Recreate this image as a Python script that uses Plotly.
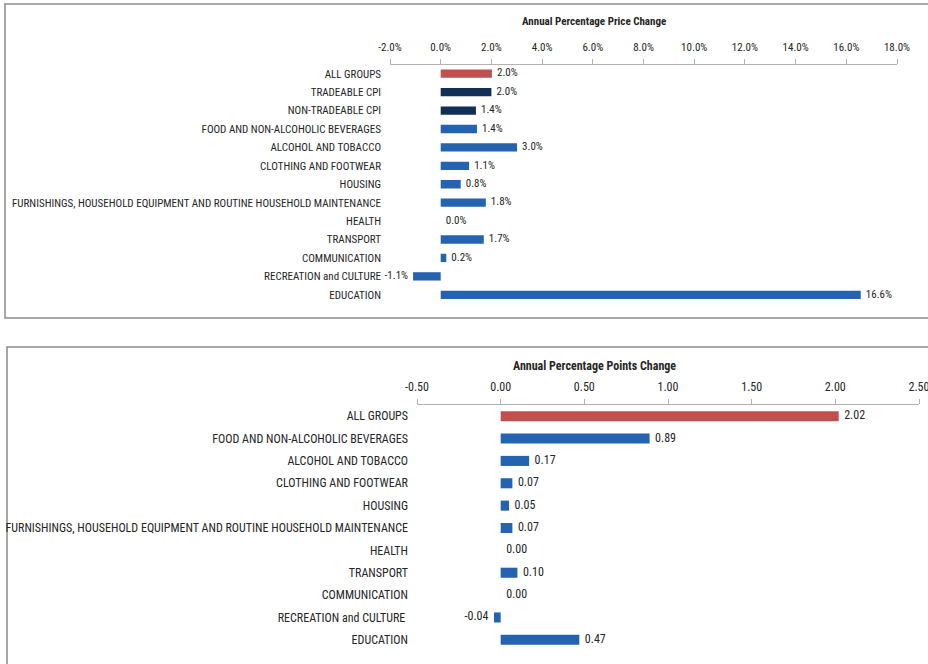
import plotly.graph_objects as go

W, H = 928, 664

cats_top = ["ALL GROUPS", "TRADEABLE CPI", "NON-TRADEABLE CPI", "FOOD AND NON-ALCOHOLIC BEVERAGES",
            "ALCOHOL AND TOBACCO", "CLOTHING AND FOOTWEAR", "HOUSING",
            "FURNISHINGS, HOUSEHOLD EQUIPMENT AND ROUTINE HOUSEHOLD MAINTENANCE",
            "HEALTH", "TRANSPORT", "COMMUNICATION", "RECREATION and CULTURE", "EDUCATION"]
vals_top = [2.02, 2.00, 1.39, 1.43, 3.01, 1.12, 0.79, 1.78, 0.00, 1.70, 0.22, -1.09, 16.57]
cols_top = ["red", "navy", "navy", "blue", "blue", "blue", "blue", "blue", "blue", "blue", "blue", "blue", "blue"]
ticks_top = [-2, 0, 2, 4, 6, 8, 10, 12, 14, 16, 18]

cats_bot = ["ALL GROUPS", "FOOD AND NON-ALCOHOLIC BEVERAGES", "ALCOHOL AND TOBACCO", "CLOTHING AND FOOTWEAR",
            "HOUSING", "FURNISHINGS, HOUSEHOLD EQUIPMENT AND ROUTINE HOUSEHOLD MAINTENANCE",
            "HEALTH", "TRANSPORT", "COMMUNICATION", "RECREATION and CULTURE\u00a0", "EDUCATION"]
vals_bot = [2.02, 0.89, 0.17, 0.07, 0.05, 0.07, 0.00, 0.10, 0.00, -0.04, 0.47]
cols_bot = ["red", "blue", "blue", "blue", "blue", "blue", "blue", "blue", "blue", "blue", "blue"]
ticks_bot = [-0.5, 0, 0.5, 1.0, 1.5, 2.0, 2.5]

PALETTE = {"red": "#C0504D", "navy": "#122F55", "blue": "#2463B0"}
FONT = "Liberation Sans Narrow, Arial Narrow, Roboto Condensed, Liberation Sans, sans-serif"
TXT = "#262626"
AXC = "#B3B3B3"
NB = "\u00a0"

def px_x(p):
    return p / W

def px_y(p):
    return 1 - p / H

top_area = dict(x0=390, x1=897, y0=64.5, y1=304)
bot_area = dict(x0=417, x1=919, y0=405, y1=651)

fig = go.Figure()

def add_panel(cats, vals, cols, xa, ya, fmt, suffix, fsize):
    fig.add_trace(go.Bar(
        x=vals, y=cats, orientation="h",
        marker=dict(color=[PALETTE[c] for c in cols], line=dict(width=0)),
        xaxis=xa, yaxis=ya, showlegend=False, hoverinfo="skip",
    ))
    labels = [format(v, fmt) + suffix for v in vals]
    labels = [(l + NB * 2) if v < 0 else (NB * 2 + l) for l, v in zip(labels, vals)]
    fig.add_trace(go.Scatter(
        x=vals, y=cats, mode="text", text=labels,
        textposition=["middle left" if v < 0 else "middle right" for v in vals],
        textfont=dict(family=FONT, size=fsize, color=TXT),
        xaxis=xa, yaxis=ya, showlegend=False, hoverinfo="skip", cliponaxis=False,
    ))

add_panel(cats_top, vals_top, cols_top, "x", "y", ".1f", "%", 11)
add_panel(cats_bot, vals_bot, cols_bot, "x2", "y2", ".2f", "", 12)

def xaxis_cfg(area, ticks, fmt, suffix, fsize):
    return dict(
        domain=[px_x(area["x0"]), px_x(area["x1"])], automargin=False, ticklabeloverflow="allow",
        range=[ticks[0], ticks[-1]], tickmode="array", tickvals=ticks,
        ticktext=[format(t, fmt) + suffix for t in ticks],
        side="top", showgrid=False, zeroline=False, showline=True, linecolor=AXC, linewidth=1,
        ticks="outside", ticklen=5, tickcolor=AXC, tickwidth=1, ticklabelstandoff=3,
        tickfont=dict(family=FONT, size=fsize, color=TXT), fixedrange=True,
    )

def yaxis_cfg(area, n, fsize):
    return dict(
        domain=[px_y(area["y1"]), px_y(area["y0"])], automargin=False,
        type="category", range=[n - 0.5, -0.5], showgrid=False, zeroline=False, showline=False,
        ticks="", ticklabelstandoff=8, tickfont=dict(family=FONT, size=fsize, color=TXT), fixedrange=True,
    )

def zero_axis_cfg(area, ticks, over, n):
    frac = (0 - ticks[0]) / (ticks[-1] - ticks[0])
    pos = px_x(area["x0"]) + frac * (px_x(area["x1"]) - px_x(area["x0"]))
    return dict(
        overlaying=over, anchor="free", position=pos, type="linear", automargin=False,
        range=[n - 0.5, -0.5], tickvals=[i - 0.5 for i in range(n + 1)],
        showticklabels=False, ticks="outside", ticklen=4, tickcolor=AXC,
        showline=True, linecolor=AXC, linewidth=1, showgrid=False, zeroline=False, fixedrange=True,
    )

fig.update_layout(
    width=W, height=H, margin=dict(l=0, r=0, t=0, b=0, autoexpand=False),
    paper_bgcolor="white", plot_bgcolor="rgba(0,0,0,0)",
    bargap=0.55, showlegend=False,
    xaxis=xaxis_cfg(top_area, ticks_top, ".1f", "%", 11) | dict(anchor="y"),
    yaxis=yaxis_cfg(top_area, len(cats_top), 11) | dict(anchor="x"),
    xaxis2=xaxis_cfg(bot_area, ticks_bot, ".2f", "", 12) | dict(anchor="y2"),
    yaxis2=yaxis_cfg(bot_area, len(cats_bot), 12) | dict(anchor="x2"),
    yaxis3=zero_axis_cfg(top_area, ticks_top, "y", len(cats_top)),
    yaxis4=zero_axis_cfg(bot_area, ticks_bot, "y2", len(cats_bot)),
    font=dict(family=FONT, color=TXT),
)

fig.add_shape(type="rect", xref="paper", yref="paper", x0=px_x(5), x1=1.02, y0=px_y(318), y1=px_y(4),
              line=dict(color="#8C8C8C", width=1.5), layer="below")
fig.add_shape(type="rect", xref="paper", yref="paper", x0=px_x(7), x1=1.02, y0=-0.05, y1=px_y(347),
              line=dict(color="#8C8C8C", width=1.5), layer="below")

fig.add_annotation(text="<b>Annual Percentage Price Change</b>", xref="paper", yref="paper",
                   x=px_x(594), y=px_y(22), showarrow=False, xanchor="center", yanchor="middle",
                   font=dict(family=FONT, size=11, color=TXT))
fig.add_annotation(text="<b>Annual Percentage Points Change</b>", xref="paper", yref="paper",
                   x=px_x(594), y=px_y(366), showarrow=False, xanchor="center", yanchor="middle",
                   font=dict(family=FONT, size=12, color=TXT))

fig.write_html("out.html")
